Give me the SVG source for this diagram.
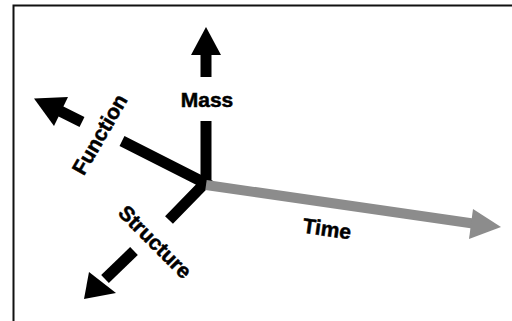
<svg xmlns="http://www.w3.org/2000/svg" width="512" height="321" viewBox="0 0 512 321">
<style>
.ax{fill:none;stroke:#000;stroke-width:11;stroke-linejoin:miter;stroke-miterlimit:10}
.hd{fill:#000}
.lbl{font-family:"Liberation Sans",Arial,Helvetica,sans-serif;font-weight:bold;font-size:21px;fill:#000;stroke:#000;stroke-width:0.5;text-anchor:middle}
</style>
<rect width="512" height="321" fill="#fff"/>
<path d="M13.5 325 V5.5 H520" fill="none" stroke="#111" stroke-width="2"/>
<g id="connectors">
  <g id="axis-function-structure">
    <polyline class="ax" points="122,141 205,183 169,220"/>
  </g>
  <g id="axis-mass">
    <line class="ax" x1="206" y1="121" x2="206" y2="183"/>
    <line class="ax" x1="206" y1="77" x2="206" y2="53"/>
    <polygon class="hd" points="206,27 221,55 191,55"/>
  </g>
  <g id="axis-function-head">
    <line class="ax" x1="82" y1="122" x2="60" y2="111"/>
    <polygon class="hd" points="34,98.5 54,126 68,97"/>
  </g>
  <g id="axis-structure-head">
    <line class="ax" x1="134" y1="251" x2="105" y2="279"/>
    <polygon class="hd" points="84,299 89,272 116,293"/>
  </g>
  <g id="axis-time">
    <line x1="206" y1="185" x2="473" y2="223.5" stroke="#8c8c8c" stroke-width="10"/>
    <polygon fill="#8c8c8c" points="501,227 473,209 469,239"/>
  </g>
</g>
<g id="label-mass"><text class="lbl" x="207" y="107">Mass</text></g>
<g id="label-function"><text class="lbl" transform="translate(106,138) rotate(-60)">Function</text></g>
<g id="label-structure"><text class="lbl" transform="translate(150,247) rotate(45)">Structure</text></g>
<g id="label-time"><text class="lbl" transform="translate(326,236) rotate(8)">Time</text></g>
</svg>
